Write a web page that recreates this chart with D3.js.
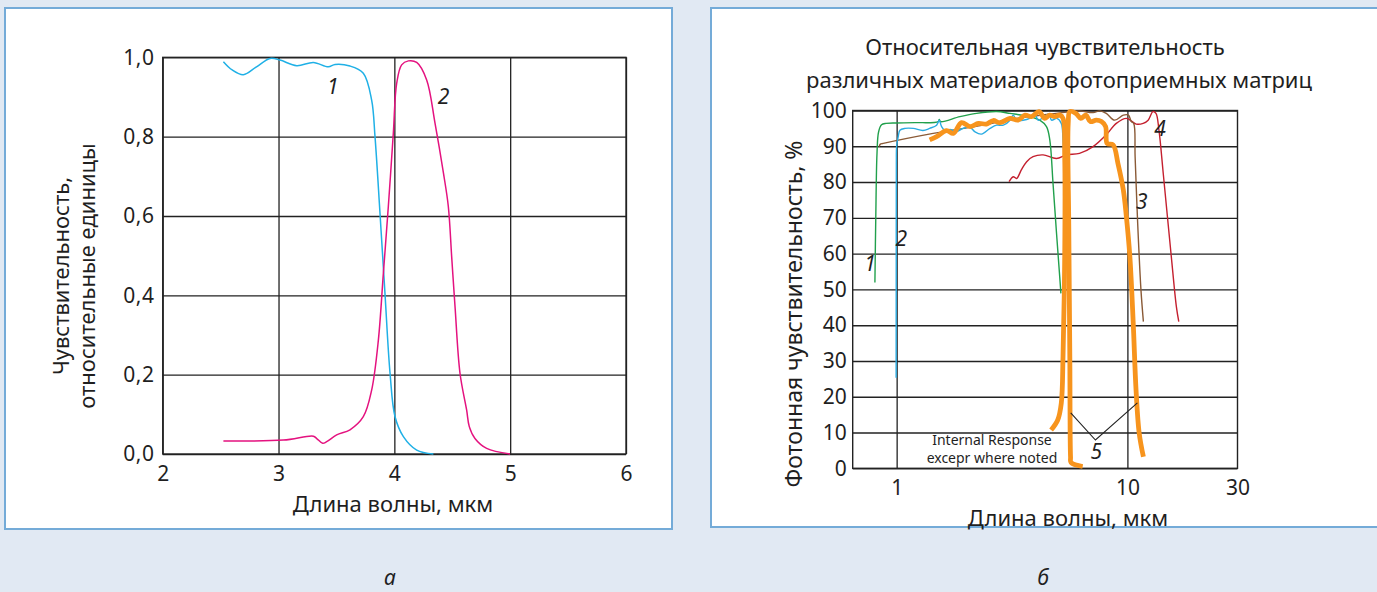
<!DOCTYPE html>
<html>
<head>
<meta charset="utf-8">
<script src="https://cdn.jsdelivr.net/npm/d3@7"></script>
<style>
  html, body { margin: 0; padding: 0; background: #e1e9f3; }
  svg { display: block; }
  text { font-family: "Noto Sans", "Open Sans", sans-serif; fill: #1f1f1f; }
</style>
</head>
<body>
<script>
// ---------- Panel a: relative sensitivity, linear wavelength axis ----------
const aTicksX = [2, 3, 4, 5, 6];
const aTicksY = [0, 0.2, 0.4, 0.6, 0.8, 1.0];
const aTickLabelsY = ["0,0", "0,2", "0,4", "0,6", "0,8", "1,0"];

const aWave1 = [2.524, 2.6, 2.696, 2.81, 2.927, 3.013, 3.157, 3.301, 3.43, 3.488, 3.617, 3.732, 3.804, 3.833, 3.876, 3.919, 3.963, 4.006, 4.078, 4.193, 4.337];
const aResp1 = [0.989, 0.968, 0.956, 0.976, 0.997, 0.993, 0.979, 0.987, 0.976, 0.982, 0.978, 0.96, 0.892, 0.8, 0.607, 0.405, 0.203, 0.094, 0.044, 0.010, 0.0];

const aWave2 = [2.524, 3.042, 3.301, 3.33, 3.381, 3.416, 3.502, 3.617, 3.732, 3.804, 3.862, 3.905, 3.948, 3.991, 4.02, 4.063, 4.121, 4.193, 4.279, 4.351, 4.424, 4.466, 4.495, 4.524, 4.567, 4.624, 4.647, 4.696, 4.797, 4.999];
const aResp2 = [0.033, 0.035, 0.045, 0.039, 0.027, 0.031, 0.048, 0.061, 0.094, 0.161, 0.287, 0.455, 0.624, 0.808, 0.934, 0.981, 0.991, 0.987, 0.943, 0.834, 0.708, 0.624, 0.497, 0.371, 0.203, 0.111, 0.069, 0.039, 0.014, 0.0];

// ---------- Panel б: photon sensitivity, log wavelength axis ----------
const bTicksX = [1, 10, 30];
const bTicksY = [0, 10, 20, 30, 40, 50, 60, 70, 80, 90, 100];

const bWave1 = [0.805, 0.812, 0.822, 0.835, 0.86, 0.9, 1.0, 1.2, 1.514, 1.53, 1.55, 1.88, 2.22, 2.71, 3.1, 3.77, 4.17, 4.46, 4.61, 4.76, 4.93, 5.09, 5.15];
const bResp1 = [51.9, 70, 88, 94, 96, 96.4, 96.5, 96.6, 96.9, 97.5, 96.9, 98.3, 99.2, 99.7, 99.2, 98.3, 97.3, 95.5, 91.8, 79.7, 65.7, 53.5, 48.9];

const bWave2 = [0.995, 0.996, 0.997, 1.0, 1.016, 1.033, 1.086, 1.18, 1.30, 1.39, 1.49, 1.53, 1.566, 1.645, 1.70, 1.82, 1.94, 2.08, 2.18, 2.33, 2.54, 2.71, 2.90, 3.10, 3.20, 3.31, 3.77, 3.97, 4.10, 4.38, 4.58, 4.69, 4.95, 5.17, 5.26, 5.44, 5.57, 5.63];
const bResp2 = [25.3, 60, 85, 90, 92.7, 94.5, 95.0, 95.0, 94.4, 95.0, 95.9, 97.3, 95.5, 94.1, 94.7, 94.1, 95.0, 95.3, 94.1, 93.4, 95.0, 95.9, 95.9, 97.3, 98.7, 97.3, 97.8, 99.2, 97.3, 98.3, 99.0, 97.3, 97.8, 96.4, 91.8, 68.5, 45.2, 25.6];

const bWave3 = [0.84, 0.85, 0.875, 1.44, 2.37, 3.31, 4.6, 5.72, 6.2, 7.1, 7.6, 8.1, 8.8, 9.6, 10.1, 10.4, 10.65, 10.8, 11.08, 11.45, 11.73];
const bResp3 = [89.9, 90.6, 90.8, 93.6, 95.9, 97.8, 99.0, 99.7, 99.9, 99.4, 99.9, 99.2, 97.3, 98.7, 98.7, 96.9, 96.4, 87.1, 68.5, 49.8, 41.0];

const bWave4 = [3.07, 3.2, 3.31, 3.47, 3.66, 3.9, 4.31, 4.93, 5.44, 6.2, 7.1, 8.1, 8.95, 9.9, 10.92, 11.7, 12.3, 12.9, 13.3, 13.7, 14.3, 15.5, 16.3, 16.7];
const bResp4 = [80.1, 81.5, 81.0, 83.4, 85.7, 87.1, 87.6, 86.6, 87.6, 88.0, 89.9, 93.2, 96.4, 97.8, 96.2, 96.4, 97.3, 99.7, 99.2, 94.5, 82.4, 59.1, 45.2, 41.0];

// curve 5: two band segments (internal response)
const bWave5a = [1.39, 1.49, 1.645, 1.76, 1.91, 2.08, 2.26, 2.45, 2.62, 2.8, 3.10, 3.36, 3.6, 3.84, 4.14, 4.38, 4.6, 4.84, 5.1, 5.26, 5.35, 5.35, 5.26, 5.17, 4.99, 4.67];
const bResp5a = [91.8, 92.7, 94.4, 93.6, 96.6, 95.5, 96.4, 96.2, 97.2, 96.6, 97.8, 97.3, 98.7, 98.3, 99.7, 97.8, 98.7, 98.3, 98.7, 97.8, 87, 59.1, 31.2, 18.2, 13.5, 10.7];
const bWave5b = [6.4, 5.7, 5.67, 5.63, 5.57, 5.54, 5.63, 5.98, 6.28, 6.61, 6.91, 7.33, 7.72, 8.05, 8.17, 8.67, 9.1, 9.6, 9.9, 10.25, 10.6, 10.9, 11.25, 11.73];
const bResp5b = [0.5, 1.6, 3.2, 31, 68.5, 96.4, 99.7, 99.2, 97.8, 98.7, 96.9, 97.3, 96.9, 95.5, 90.8, 90.4, 85.2, 77.8, 70.3, 59.1, 40.5, 21.9, 9.8, 3.2];

// pointer from label "5" to both band edges
const bPointerWave = [5.68, 7.27, 11.05];
const bPointerResp = [15.5, 7.9, 18.3];

const zip = (xs, ys) => xs.map((x, i) => [x, ys[i]]);

const W = 1377, H = 592;
const svg = d3.select("body").append("svg").attr("width", W).attr("height", H);

// panel cards
svg.append("rect").attr("x", 5).attr("y", 8).attr("width", 667).attr("height", 521)
  .attr("fill", "#fff").attr("stroke", "#74abd8").attr("stroke-width", 2);
svg.append("rect").attr("x", 711).attr("y", 8).attr("width", 700).attr("height", 519)
  .attr("fill", "#fff").attr("stroke", "#74abd8").attr("stroke-width", 2);

const gridColor = "#222";
const smooth = d3.curveCatmullRom.alpha(0.5);
const tickFont = 21;
const labelFont = 22;

// ================= Panel a =================
{
  const x = d3.scaleLinear().domain([2, 6]).range([162.7, 626]);
  const y = d3.scaleLinear().domain([0, 1]).range([454, 57.3]);
  const g = svg.append("g");

  // grid
  g.append("g").attr("transform", `translate(0,${y(0)})`)
    .call(d3.axisBottom(x).tickValues(aTicksX).tickSize(-(y(0) - y(1))).tickFormat(""))
    .call(s => s.select(".domain").remove())
    .call(s => s.selectAll("line").attr("stroke", gridColor).attr("stroke-width", 1.3));
  g.append("g").attr("transform", `translate(${x(2)},0)`)
    .call(d3.axisLeft(y).tickValues(aTicksY).tickSize(-(x(6) - x(2))).tickFormat(""))
    .call(s => s.select(".domain").remove())
    .call(s => s.selectAll("line").attr("stroke", gridColor).attr("stroke-width", 1.3));
  g.append("rect").attr("x", x(2)).attr("y", y(1)).attr("width", x(6) - x(2)).attr("height", y(0) - y(1))
    .attr("fill", "none").attr("stroke", gridColor).attr("stroke-width", 1.3);

  // tick labels
  g.append("g").attr("transform", `translate(0,${y(0)})`)
    .call(d3.axisBottom(x).tickValues(aTicksX).tickSize(0).tickPadding(12).tickFormat(d3.format("d")))
    .call(s => s.select(".domain").remove())
    .call(s => s.selectAll("text").attr("font-size", tickFont).style("font-family", null));
  g.append("g").attr("transform", `translate(${x(2)},0)`)
    .call(d3.axisLeft(y).tickValues(aTicksY).tickSize(0).tickPadding(8).tickFormat((d, i) => aTickLabelsY[i]))
    .call(s => s.select(".domain").remove())
    .call(s => s.selectAll("text").attr("font-size", tickFont).attr("letter-spacing", 0.6).style("font-family", null));

  const line = d3.line().x(d => x(d[0])).y(d => y(d[1])).curve(smooth);
  g.append("path").attr("d", line(zip(aWave1, aResp1))).attr("fill", "none").attr("stroke", "#1fb0e6").attr("stroke-width", 1.5);
  g.append("path").attr("d", line(zip(aWave2, aResp2))).attr("fill", "none").attr("stroke", "#e4127f").attr("stroke-width", 1.5);

  g.append("text").attr("x", x(3.468)).attr("y", y(0.925)).attr("dy", "0.35em").attr("text-anchor", "middle")
    .attr("font-size", 21).attr("font-style", "italic").text("1");
  g.append("text").attr("x", x(4.425)).attr("y", y(0.902)).attr("dy", "0.35em").attr("text-anchor", "middle")
    .attr("font-size", 21).attr("font-style", "italic").text("2");

  g.append("text").attr("x", 393).attr("y", 512).attr("text-anchor", "middle").attr("font-size", labelFont)
    .text("Длина волны, мкм");
  g.append("text").attr("transform", "translate(69,276) rotate(-90)").attr("text-anchor", "middle")
    .attr("font-size", labelFont).text("Чувствительность,");
  g.append("text").attr("transform", "translate(95,276) rotate(-90)").attr("text-anchor", "middle")
    .attr("font-size", labelFont).text("относительные единицы");

  svg.append("text").attr("x", 390).attr("y", 585).attr("text-anchor", "middle").attr("font-size", 21)
    .attr("font-style", "italic").text("а");
}

// ================= Panel б =================
{
  const x = d3.scaleLog().domain([0.645, 30]).range([852.7, 1237.5]);
  const y = d3.scaleLinear().domain([0, 100]).range([468.3, 110.5]);
  const g = svg.append("g");

  g.append("g").attr("transform", `translate(0,${y(0)})`)
    .call(d3.axisBottom(x).tickValues([1, 10]).tickSize(-(y(0) - y(100))).tickFormat(""))
    .call(s => s.select(".domain").remove())
    .call(s => s.selectAll("line").attr("stroke", gridColor).attr("stroke-width", 1.3));
  g.append("g").attr("transform", `translate(${x(0.645)},0)`)
    .call(d3.axisLeft(y).tickValues(bTicksY).tickSize(-(x(30) - x(0.645))).tickFormat(""))
    .call(s => s.select(".domain").remove())
    .call(s => s.selectAll("line").attr("stroke", gridColor).attr("stroke-width", 1.4));
  g.append("rect").attr("x", x(0.645)).attr("y", y(100)).attr("width", x(30) - x(0.645)).attr("height", y(0) - y(100))
    .attr("fill", "none").attr("stroke", gridColor).attr("stroke-width", 1.4);

  g.append("g").attr("transform", `translate(0,${y(0)})`)
    .call(d3.axisBottom(x).tickValues(bTicksX).tickSize(0).tickPadding(12).tickFormat(d3.format("d")))
    .call(s => s.select(".domain").remove())
    .call(s => s.selectAll("text").attr("font-size", tickFont).style("font-family", null));
  g.append("g").attr("transform", `translate(${x(0.645)},0)`)
    .call(d3.axisLeft(y).tickValues(bTicksY).tickSize(0).tickPadding(6).tickFormat(d3.format("d")))
    .call(s => s.select(".domain").remove())
    .call(s => s.selectAll("text").attr("font-size", tickFont).style("font-family", null));

  const line = d3.line().x(d => x(d[0])).y(d => y(d[1])).curve(smooth);
  const thin = 1.4;
  g.append("path").attr("d", line(zip(bWave4, bResp4))).attr("fill", "none").attr("stroke", "#c4202f").attr("stroke-width", thin);
  g.append("path").attr("d", line(zip(bWave3, bResp3))).attr("fill", "none").attr("stroke", "#8a5a36").attr("stroke-width", thin);
  g.append("path").attr("d", line(zip(bWave1, bResp1))).attr("fill", "none").attr("stroke", "#21a04c").attr("stroke-width", thin);
  g.append("path").attr("d", line(zip(bWave2, bResp2))).attr("fill", "none").attr("stroke", "#29abe2").attr("stroke-width", thin);
  g.append("path").attr("d", line(zip(bWave5a, bResp5a))).attr("fill", "none").attr("stroke", "#f7941d")
    .attr("stroke-width", 4.8).attr("stroke-linejoin", "round");
  g.append("path").attr("d", line(zip(bWave5b, bResp5b))).attr("fill", "none").attr("stroke", "#f7941d")
    .attr("stroke-width", 4.8).attr("stroke-linejoin", "round");

  const pl = d3.line().x(d => x(d[0])).y(d => y(d[1]));
  g.append("path").attr("d", pl(zip(bPointerWave, bPointerResp))).attr("fill", "none").attr("stroke", "#222").attr("stroke-width", 1.1);

  const lab = (t, wx, ry) => g.append("text").attr("x", x(wx)).attr("y", y(ry)).attr("dy", "0.35em")
    .attr("text-anchor", "middle").attr("font-size", 21).attr("font-style", "italic").text(t);
  lab("1", 0.766, 57.3);
  lab("2", 1.048, 64.3);
  lab("3", 11.55, 74.5);
  lab("4", 13.85, 95.0);
  lab("5", 7.33, 4.6);

  g.append("text").attr("x", 992).attr("y", 445).attr("text-anchor", "middle").attr("font-size", 14).text("Internal Response");
  g.append("text").attr("x", 992).attr("y", 463).attr("text-anchor", "middle").attr("font-size", 14).text("excepr where noted");

  g.append("text").attr("x", 1045).attr("y", 55).attr("text-anchor", "middle").attr("font-size", 22)
    .text("Относительная чувствительность");
  g.append("text").attr("x", 1059).attr("y", 88).attr("text-anchor", "middle").attr("font-size", 22)
    .text("различных материалов фотоприемных матриц");
  g.append("text").attr("x", 1068).attr("y", 526).attr("text-anchor", "middle").attr("font-size", labelFont)
    .text("Длина волны, мкм");
  g.append("text").attr("transform", "translate(802,314) rotate(-90)").attr("text-anchor", "middle")
    .attr("font-size", 23).text("Фотонная чувствительность, %");

  svg.append("text").attr("x", 1043).attr("y", 585).attr("text-anchor", "middle").attr("font-size", 21)
    .attr("font-style", "italic").text("б");
}
</script>
</body>
</html>
